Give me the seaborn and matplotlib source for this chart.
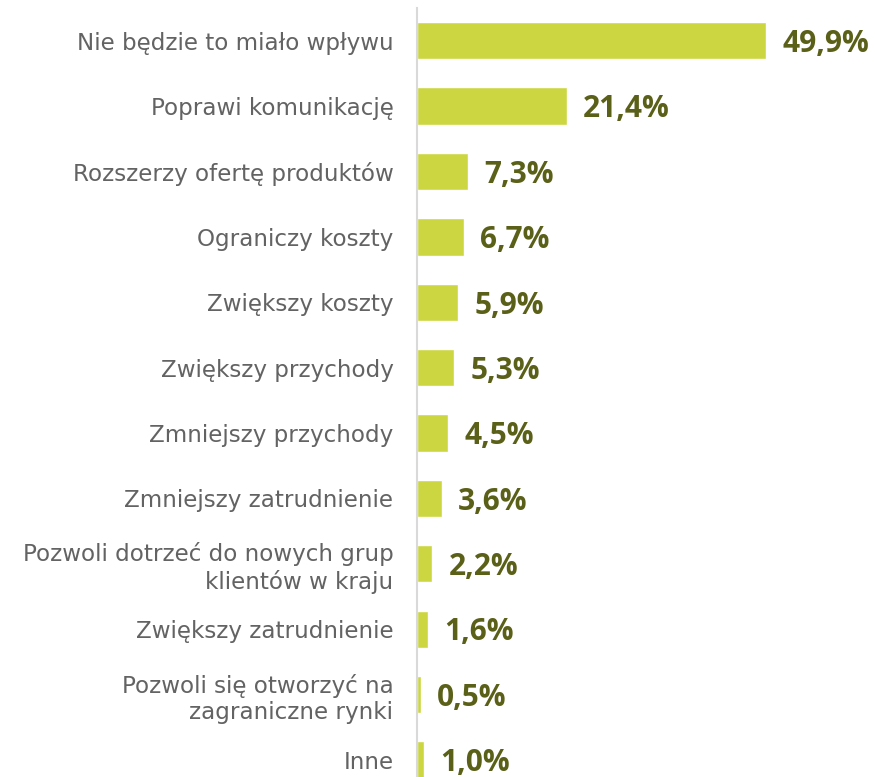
import matplotlib
matplotlib.use("Agg")
import matplotlib.pyplot as plt
import seaborn as sns
import pandas as pd

# dane z wykresu (odpowiedzi w %)
kategorie = [
    "Nie będzie to miało wpływu",
    "Poprawi komunikację",
    "Rozszerzy ofertę produktów",
    "Ograniczy koszty",
    "Zwiększy koszty",
    "Zwiększy przychody",
    "Zmniejszy przychody",
    "Zmniejszy zatrudnienie",
    "Pozwoli dotrzeć do nowych grup\nklientów w kraju",
    "Zwiększy zatrudnienie",
    "Pozwoli się otworzyć na\nzagraniczne rynki",
    "Inne",
]
wartosci = [49.9, 21.4, 7.3, 6.7, 5.9, 5.3, 4.5, 3.6, 2.2, 1.6, 0.5, 1.0]
etykiety = ["49,9%", "21,4%", "7,3%", "6,7%", "5,9%", "5,3%",
            "4,5%", "3,6%", "2,2%", "1,6%", "0,5%", "1,0%"]

KOLOR_SLUPKA = "#CCD640"
KOLOR_ETYKIETY = "#5A6018"
KOLOR_TEKSTU = "#636363"

df = pd.DataFrame({"kategoria": kategorie, "wartosc": wartosci})

sns.set_style("white")
plt.rcParams["font.family"] = ["Open Sans", "DejaVu Sans"]

fig = plt.figure(figsize=(8.75, 7.77), dpi=100)
ax = fig.add_axes([0.4766, 0.0, 0.5234, 0.9897])

sns.barplot(data=df, y="kategoria", x="wartosc", color=KOLOR_SLUPKA,
            saturation=1, width=0.57, orient="h", ax=ax)

# etykiety wartości przy słupkach
for i, (v, t) in enumerate(zip(wartosci, etykiety)):
    ax.text(v + 2.3, i + 0.05, t, va="center", ha="left", fontsize=21.5,
            fontweight="bold", color=KOLOR_ETYKIETY)

ax.set_xlim(0, 65.5)
ax.set_ylim(11.26, -0.5)
ax.set_xlabel("")
ax.set_ylabel("")
ax.set_xticks([])
ax.tick_params(axis="y", length=0, pad=17, labelsize=16.6, labelcolor=KOLOR_TEKSTU)
for lab in ax.get_yticklabels():
    lab.set_family("DejaVu Sans")
    lab.set_multialignment("right")
    lab.set_linespacing(1.2)

for s in ["top", "right", "bottom"]:
    ax.spines[s].set_visible(False)
ax.spines["left"].set_color("#D9D9D9")
ax.spines["left"].set_linewidth(1.5)

fig.savefig("out.png", dpi=100)
